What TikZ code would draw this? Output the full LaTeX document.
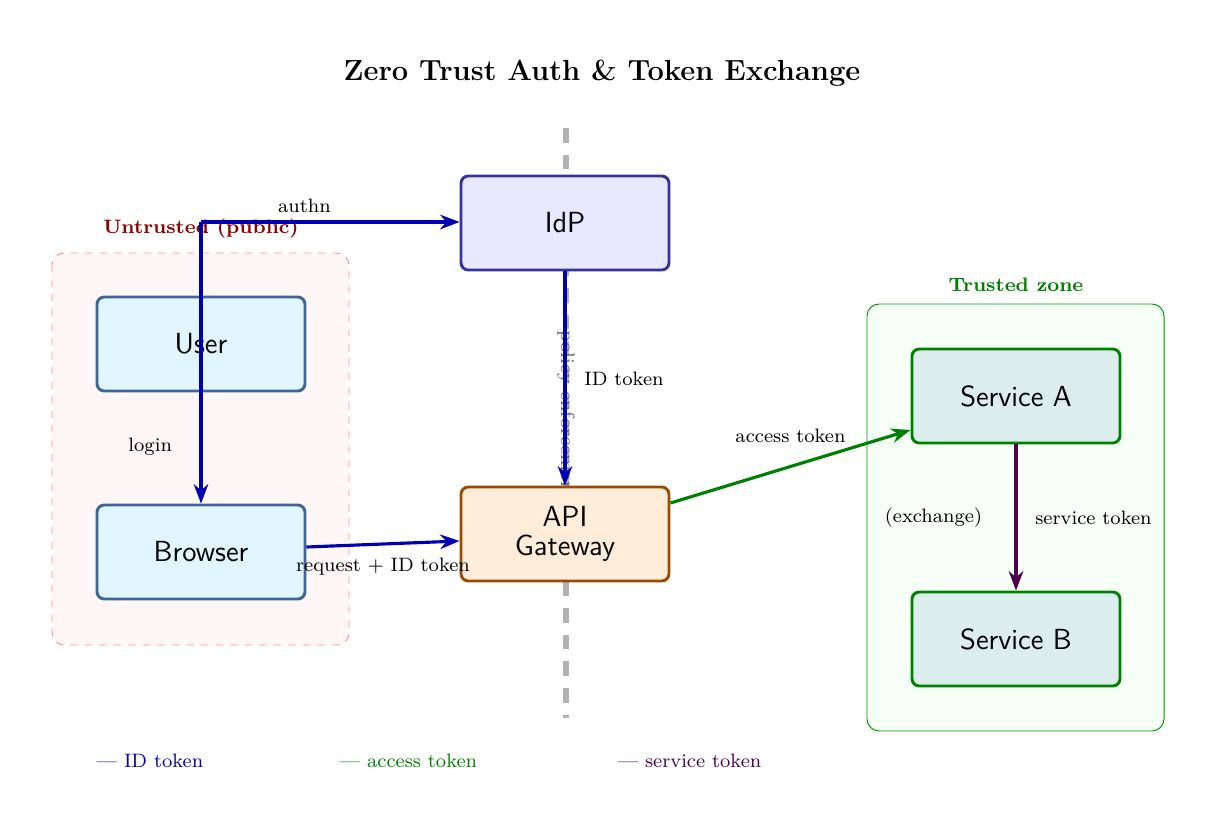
\documentclass[tikz,border=0pt]{standalone}
\usetikzlibrary{arrows.meta,calc}
\begin{document}
\begin{tikzpicture}[x=0.0145cm,y=-0.0145cm,
 box/.style={rounded corners=3pt,line width=1.2pt,minimum width=208*0.0145cm,minimum height=94*0.0145cm,font=\sffamily\large,align=center},
 usr/.style={box,fill=cyan!12,draw=cyan!50!blue!70!black},
 idp/.style={box,fill=blue!9,draw=blue!50!black!80},
 gw/.style={box,fill=orange!15,draw=orange!60!black},
 svc/.style={box,fill=teal!14,draw=green!50!black},
 lbl/.style={font=\footnotesize},
 arr/.style={-{Stealth[length=8pt]},line width=1.3pt},
 idc/.style={arr,draw=blue!70!black},
 acc/.style={arr,draw=green!50!black},
 svt/.style={arr,draw=violet!60!black}]
\useasboundingbox (0,0) rectangle (1228,830);
\node[font=\bfseries\large] (title) at (602,73) {Zero Trust Auth \& Token Exchange};
\draw[dashed,rounded corners=5pt,draw=red!45,fill=red!3] (52,253) rectangle (349,645);
\node[font=\footnotesize\bfseries,text=red!55!black] (ulbl) at (201,229) {Untrusted (public)};
\draw[rounded corners=5pt,draw=green!60!black,fill=green!4] (867,304) rectangle (1164,731);
\node[font=\footnotesize\bfseries,text=green!50!black] (tlbl) at (1016,285) {Trusted zone};
\coordinate (top) at (566,128); \coordinate (bot) at (566,718);
\draw[gray!60,line width=2.5pt,dash pattern=on 6pt off 5pt] (top) -- (bot);
\node[lbl,text=gray!80!black,rotate=-90,anchor=west] (pol) at (566,322) {policy enforcement};
\node[usr] (user) at (201,344) {User};
\node[usr] (browser) at (201,552) {Browser};
\node[idp] (idp) at (565,223) {IdP};
\node[gw] (gw) at (565,534) {API\\[-2pt]Gateway};
\node[svc] (sa) at (1016,396) {Service A};
\node[svc] (sb) at (1016,639) {Service B};
\coordinate (j) at (201,222);
\draw[idc] (j) -- (idp.west|-j) node[pos=0.4,above,lbl,text=black] (authn) {authn};
\draw[idc] (j) -- (browser.north) node[pos=0.8,left=8pt,lbl,text=black] (login) {login};
\draw[idc] (idp.south) -- (gw.north) node[midway,right=4pt,lbl,text=black] (idt) {ID token};
\coordinate (bs) at ($(browser.east)+(0,-5)$);
\coordinate (gwl) at ($(gw.west)+(0,7)$);
\draw[idc] (bs) -- (gwl) node[pos=0.5,below=2pt,lbl,text=black] (req) {request + ID token};
\coordinate (ge) at ($(gw.east)+(0,-31)$);
\coordinate (sw) at ($(sa.west)+(0,34)$);
\draw[acc] (ge) -- (sw) node[pos=0.5,above=6pt,lbl,text=black] (acct) {access token};
\draw[svt] (sa.south) -- (sb.north) node[midway,right=4pt,lbl,text=black] (svtl) {service token}
  node[midway,left=10pt,lbl,text=black] (exch) {(exchange)};
\node[lbl,text=blue!70!black,anchor=west] (l1) at (88,761) {--- ID token};
\node[lbl,text=green!50!black,anchor=west] (l2) at (331,761) {--- access token};
\node[lbl,text=violet!60!black,anchor=west] (l3) at (609,761) {--- service token};
\end{tikzpicture}
\end{document}
